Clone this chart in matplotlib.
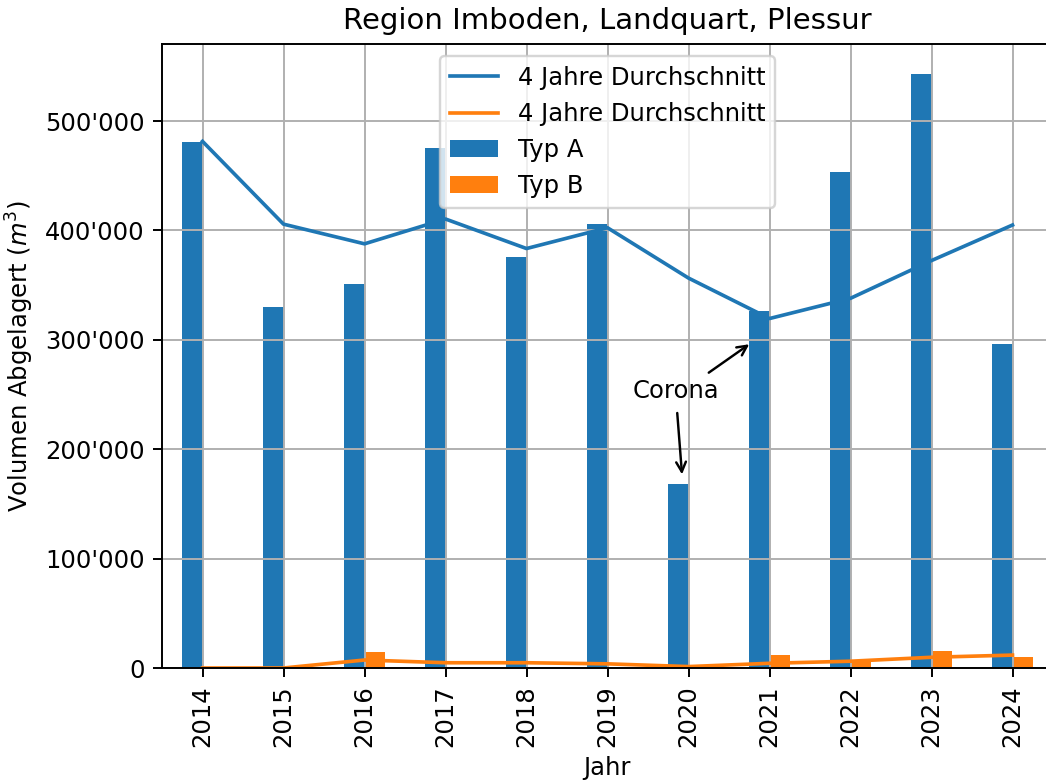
import matplotlib
matplotlib.use("Agg")
import matplotlib.pyplot as plt
import matplotlib.ticker as mticker
import numpy as np

years = [2014, 2015, 2016, 2017, 2018, 2019, 2020, 2021, 2022, 2023, 2024]
typ_a = [481000, 330500, 351500, 475500, 376000, 406000, 168000, 326500, 453500, 543000, 296000]
typ_b = [0, 0, 14500, 0, 500, 0, 0, 12000, 6800, 15300, 9800]
avg_a = [481500, 405800, 387800, 410500, 383500, 402500, 356500, 319500, 338000, 372500, 405000]
avg_b = [0, 0, 7300, 4800, 4800, 3800, 1300, 4300, 6200, 9800, 11800]

BLUE = "#1f77b4"
ORANGE = "#ff7f0e"
DPI = 175

fig = plt.figure(figsize=(1046 / DPI, 782 / DPI), dpi=DPI)
# axes runs slightly past the right edge of the picture, as in the reference
ax = fig.add_axes([162 / 1046, 1 - 668 / 782, (1053 - 162) / 1046, (668 - 44) / 782])

x = np.arange(len(years))
w = 0.25
ax.bar(x - w / 2, typ_a, width=w, color=BLUE, label="Typ A")
ax.bar(x + w / 2, typ_b, width=w, color=ORANGE, label="Typ B")
ax.plot(x, avg_a, color=BLUE, label="4 Jahre Durchschnitt")
ax.plot(x, avg_b, color=ORANGE, label="4 Jahre Durchschnitt")

ax.annotate("Corona", xy=(5.92, 177000), xytext=(5.84, 253000),
            ha="center", va="center",
            arrowprops=dict(arrowstyle="->", color="black", lw=1.0, shrinkB=0))
ax.annotate("", xy=(6.75, 296000), xytext=(6.25, 270000),
            arrowprops=dict(arrowstyle="->", color="black", lw=1.0, shrinkA=0, shrinkB=0))

ax.set_xticks(x)
ax.set_xticklabels([str(y) for y in years], rotation=90)
ax.set_xlim(-0.5, 10.5)
ax.set_ylim(0, 570500)
ax.yaxis.set_major_formatter(mticker.FuncFormatter(lambda v, p: f"{int(v):,}".replace(",", "'")))
ax.set_xlabel("Jahr")
ax.set_ylabel("Volumen Abgelagert ($m^3$)")
ax.set_title("Region Imboden, Landquart, Plessur")
ax.grid(True)
ax.legend(loc="upper center")

fig.savefig("out.png", dpi=DPI, facecolor="white")
